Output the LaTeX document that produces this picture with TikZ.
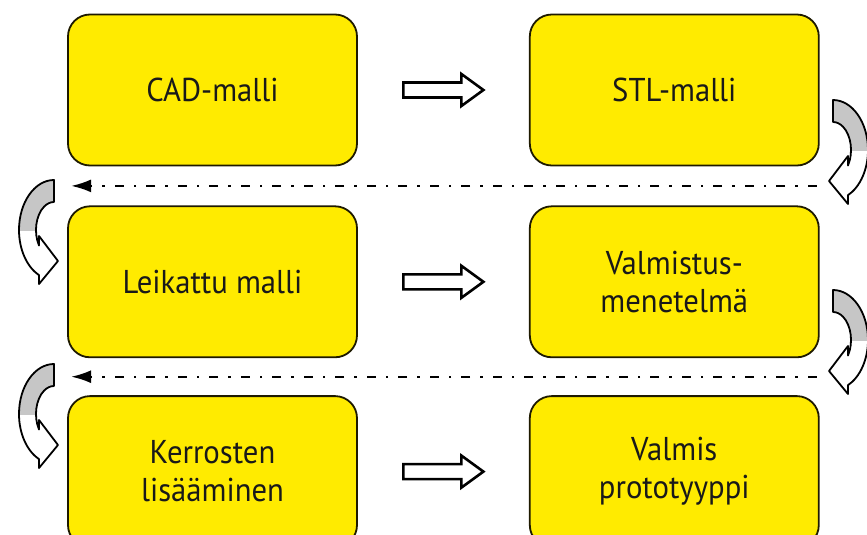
\documentclass[tikz,border=0pt]{standalone}
\usepackage{fontspec}
\setmainfont{PT Sans}[FakeStretch=0.93]
\usetikzlibrary{arrows.meta, positioning, calc}
\definecolor{boxyellow}{HTML}{FFEB00}
\definecolor{boxline}{HTML}{1E1A00}

\newcommand{\turnpath}{(0,-50) arc[start angle=-90, end angle=64.6, x radius=35, y radius=50]
  -- (15,54) -- (-4,31) -- (15,6) -- (15,15.5)
  arc[start angle=33.6, end angle=-90, x radius=18, y radius=28] -- cycle}

\tikzset{
  stepbox/.style={draw=boxline, line width=1.8pt, fill=boxyellow, rounded corners=22pt,
    minimum width=289pt, minimum height=151pt, align=center,
    font=\fontsize{33}{38}\selectfont, text=black!90},
  backline/.style={line width=2.2pt, dash pattern=on 9pt off 10pt on 2.5pt off 10pt,
    -{Latex[length=20pt, width=13pt]}},
  hollowarrow/.pic={
    \draw[line width=2.6pt, fill=white] (-40,-7.5) -- (18,-7.5) -- (18,-16) -- (40,0)
      -- (18,16) -- (18,7.5) -- (-40,7.5) -- cycle;
  },
  turnarrow/.pic={
    \fill[white] \turnpath;
    \begin{scope}
      \clip (-60,-60) rectangle (60,0);
      \fill[gray!45] \turnpath;
    \end{scope}
    \draw[line width=1.8pt, line join=round] \turnpath;
  },
}

\begin{document}
\begin{tikzpicture}[x=1pt, y=-1pt]
  \useasboundingbox (0,0) rectangle (867,535);

  \node[stepbox] (cad) at (212.5,90) {CAD-malli};
  \node[stepbox, right=171pt of cad] (stl) {STL-malli};
  \node[stepbox, below=39pt of cad] (cut) {Leikattu malli};
  \node[stepbox, below=39pt of stl] (method) {Valmistus-\\menetelmä};
  \node[stepbox, below=37pt of cut] (layers) {Kerrosten\\lisääminen};
  \node[stepbox, below=37pt of method] (proto) {Valmis\\prototyyppi};

  % arrows inside each row
  \pic at ($(cad.east)!0.5!(stl.west)$) {hollowarrow};
  \pic at ($(cut.east)!0.5!(method.west)$) {hollowarrow};
  \pic at ($(layers.east)!0.5!(proto.west)$) {hollowarrow};

  % return lines between rows
  \coordinate (r1) at ($(stl.south east)!0.5!(method.north east)+(-3,0)$);
  \coordinate (l1) at ($(cad.south west)!0.5!(cut.north west)+(4,0)$);
  \coordinate (r2) at ($(method.south east)!0.5!(proto.north east)+(-3,0)$);
  \coordinate (l2) at ($(cut.south west)!0.5!(layers.north west)+(4,0)$);
  \draw[backline] (r1) -- (l1);
  \draw[backline] (r2) -- (l2);

  \foreach \y in {150, 340} {
    \pic at (833,\y) {turnarrow};
  }
  \foreach \y in {230, 414} {
    \pic[xscale=-1] at (54,\y) {turnarrow};
  }
\end{tikzpicture}
\end{document}
